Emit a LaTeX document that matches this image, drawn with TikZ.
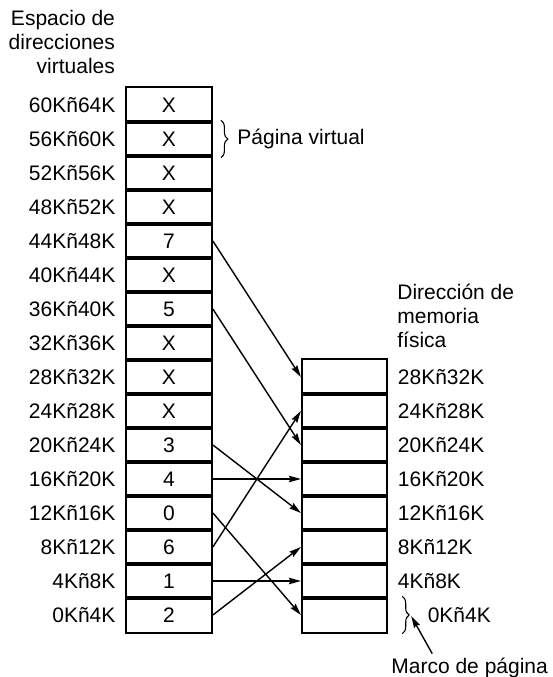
\documentclass[tikz,border=0pt]{standalone}
\usepackage{fontspec}
\setmainfont{Liberation Sans}
\usetikzlibrary{arrows.meta, positioning, decorations.pathreplacing}

\begin{document}
\begin{tikzpicture}[
        x=1pt, y=1pt,
        font=\fontsize{21}{24}\selectfont,
        node distance=34pt,
        label distance=9.5pt,
        every label/.style={inner sep=0pt},
        vpage/.style={rectangle, draw, line width=1.8pt, minimum width=86pt, minimum height=35.5pt, inner sep=0pt},
        arrow/.style={-{Stealth[length=12pt, width=6.5pt, inset=1.5pt]}, line width=1.4pt}
    ]

    \tikzset{
    pframe/.style={vpage, minimum width=85.5pt},
    brace/.style={decorate, decoration={brace, amplitude=7pt}, line width=1.1pt}
}

    \useasboundingbox (0,0) rectangle (553,677);

    % virtual address space
    \node[vpage, label=left:60Kñ64K] (v15) at (169,572) {X};
    \node[vpage, label=left:56Kñ60K] (v14) [below of=v15] {X};
    \node[vpage, label=left:52Kñ56K] (v13) [below of=v14] {X};
    \node[vpage, label=left:48Kñ52K] (v12) [below of=v13] {X};
    \node[vpage, label=left:44Kñ48K] (v11) [below of=v12] {7};
    \node[vpage, label=left:40Kñ44K] (v10) [below of=v11] {X};
    \node[vpage, label=left:36Kñ40K] (v9) [below of=v10] {5};
    \node[vpage, label=left:32Kñ36K] (v8) [below of=v9] {X};
    \node[vpage, label=left:28Kñ32K] (v7) [below of=v8] {X};
    \node[vpage, label=left:24Kñ28K] (v6) [below of=v7] {X};
    \node[vpage, label=left:20Kñ24K] (v5) [below of=v6] {3};
    \node[vpage, label=left:16Kñ20K] (v4) [below of=v5] {4};
    \node[vpage, label=left:12Kñ16K] (v3) [below of=v4] {0};
    \node[vpage, label=left:8Kñ12K] (v2) [below of=v3] {6};
    \node[vpage, label=left:4Kñ8K] (v1) [below of=v2] {1};
    \node[vpage, label=left:0Kñ4K] (v0) [below of=v1] {2};

    % physical memory
    \node[pframe, label=right:28Kñ32K] (p7) [right=88pt of v7] {};
    \node[pframe, label=right:24Kñ28K] (p6) [below of=p7] {};
    \node[pframe, label=right:20Kñ24K] (p5) [below of=p6] {};
    \node[pframe, label=right:16Kñ20K] (p4) [below of=p5] {};
    \node[pframe, label=right:12Kñ16K] (p3) [below of=p4] {};
    \node[pframe, label=right:8Kñ12K] (p2) [below of=p3] {};
    \node[pframe, label=right:4Kñ8K] (p1) [below of=p2] {};
    \node[pframe] (p0) [below of=p1] {};

    \node[align=right, inner sep=0pt] (vtitle) [above left=12pt and 10pt of v15.north west] {Espacio de\\direcciones\\virtuales};
    \node[align=left, inner sep=0pt] (ptitle) [above right=10pt and 9pt of p7.north east] {Dirección de\\memoria\\física};

    \draw[arrow] (v11.east) -- (p7.west);
    \draw[arrow] (v9.east) -- (p5.west);
    \draw[arrow] (v5.east) -- (p3.west);
    \draw[arrow] (v4.east) -- (p4.west);
    \draw[arrow] (v3.east) -- (p0.west);
    \draw[arrow] (v2.east) -- (p6.west);
    \draw[arrow] (v1.east) -- (p1.west);
    \draw[arrow] (v0.east) -- (p2.west);

    \draw[brace] ([xshift=8pt]v14.north east) -- ([xshift=8pt]v14.south east)
        node[midway, right=16pt, inner sep=0pt] {Página virtual};
    \draw[brace] ([xshift=14pt]p0.north east) -- ([xshift=14pt]p0.south east)
        node[midway, right=25pt, inner sep=0pt] {0Kñ4K};

    \coordinate (tip) at ([xshift=23pt, yshift=-1pt]p0.east);
    \node[inner sep=0pt] (marco) [below right=24pt and 3pt of p0.south east] {Marco de página};
    \draw[arrow] ([xshift=41pt, yshift=4pt]marco.north west) -- (tip);
    \end{tikzpicture}
\end{document}
